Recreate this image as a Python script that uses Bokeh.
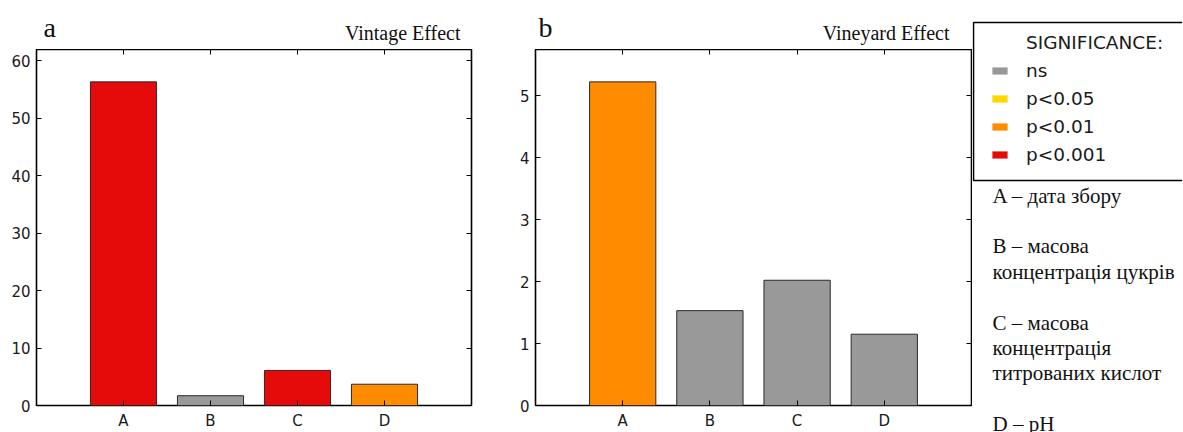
from bokeh.plotting import figure
from bokeh.models import (Range1d, LinearAxis, FixedTicker, Label, Legend, LegendItem,
                          ColumnDataSource, BoxAnnotation)
from bokeh.layouts import row, column
from bokeh.embed import file_html
from bokeh.resources import INLINE

# ---------------- data ----------------
categories = ["A", "B", "C", "D"]
vintage_values = [56.3, 1.7, 6.1, 3.7]
vintage_sig = ["p<0.001", "ns", "p<0.001", "p<0.01"]
vineyard_values = [5.22, 1.53, 2.02, 1.15]
vineyard_sig = ["p<0.01", "ns", "ns", "ns"]
sig_levels = ["ns", "p<0.05", "p<0.01", "p<0.001"]
sig_colors = ["#999999", "#ffd700", "#ff8c00", "#e60b0b"]
vintage_ticks = [0, 10, 20, 30, 40, 50, 60]
vineyard_ticks = [0, 1, 2, 3, 4, 5]
panel_letters = ["a", "b"]
panel_titles = ["Vintage Effect", "Vineyard Effect"]
legend_title = "SIGNIFICANCE:"
note_lines = ["A – дата збору", "", "B – масова", "концентрація цукрів", "",
              "C – масова", "концентрація", "титрованих кислот", "", "D – pH"]

SERIF = "Liberation Serif"
SANS = "DejaVu Sans"
HEAD_H = 49
FRAME_H = 356
BOT_B = 27
PLOT_H = FRAME_H + BOT_B
TOTAL_H = HEAD_H + PLOT_H


def styled_axis(axis, labels=None, hide=False):
    axis.axis_line_color = None
    axis.major_tick_in = 5
    axis.major_tick_out = 0
    axis.minor_tick_in = 0
    axis.minor_tick_out = 0
    axis.major_tick_line_color = "black"
    axis.major_tick_line_width = 1
    axis.major_label_text_font = SANS
    axis.major_label_text_font_size = "15px"
    axis.major_label_text_color = "#1a1a1a"
    if labels is not None:
        axis.major_label_overrides = labels
    if hide:
        axis.major_label_standoff = 0
        axis.major_label_text_font_size = "0px"
    return axis


def header(letter, title, b_left, b_right, frame_w, letter_dx, title_dx):
    h = figure(width=b_left + frame_w + b_right, height=HEAD_H,
               x_range=Range1d(0, frame_w), y_range=Range1d(0, HEAD_H),
               output_backend="svg", toolbar_location=None,
               min_border_left=b_left, min_border_right=b_right,
               min_border_top=0, min_border_bottom=0,
               x_axis_location=None, y_axis_location=None)
    h.grid.visible = False
    h.outline_line_color = None
    # text centres (px from top): letter baseline 36, title baseline 39
    h.add_layout(Label(x=letter_dx, y=HEAD_H - (36 - 0.3375 * 28), text=letter,
                       text_font=SERIF, text_font_size="28px", text_color="#111111",
                       text_baseline="middle"))
    h.add_layout(Label(x=frame_w - title_dx, y=HEAD_H - (39 - 0.3375 * 20), text=title,
                       text_font=SERIF, text_font_size="20px", text_color="#111111",
                       text_align="right", text_baseline="middle"))
    return h


def panel(values, sig, ticks, b_left, b_right, frame_w):
    color_of = dict(zip(sig_levels, sig_colors))
    xpos = [i + 1 for i, _ in enumerate(categories)]
    src = ColumnDataSource(dict(x=xpos, value=values, color=[color_of[s] for s in sig]))
    p = figure(width=b_left + frame_w + b_right, height=PLOT_H,
               x_range=Range1d(0, len(categories) + 1), y_range=Range1d(0, max(values) * 1.1),
               output_backend="svg", toolbar_location=None,
               min_border_left=b_left, min_border_right=b_right,
               min_border_top=0, min_border_bottom=BOT_B,
               x_axis_location=None, y_axis_location=None)
    p.vbar(x="x", top="value", width=0.76, fill_color="color",
           line_color="#2a2a2a", line_width=1, source=src)
    p.grid.visible = False
    p.outline_line_color = "black"
    p.outline_line_width = 1.6
    p.outline_line_alpha = 1.0

    bottom = styled_axis(LinearAxis(ticker=FixedTicker(ticks=xpos)),
                         {x: c for x, c in zip(xpos, categories)})
    bottom.major_label_standoff = 6
    p.add_layout(bottom, "below")
    top = styled_axis(LinearAxis(ticker=FixedTicker(ticks=xpos)),
                      {x: "" for x in xpos}, hide=True)
    p.add_layout(top, "above")
    left = styled_axis(LinearAxis(ticker=FixedTicker(ticks=ticks)))
    left.major_label_standoff = 6
    p.add_layout(left, "left")
    right = styled_axis(LinearAxis(ticker=FixedTicker(ticks=ticks)),
                        {t: "" for t in ticks}, hide=True)
    p.add_layout(right, "right")
    return p


h1 = header(panel_letters[0], panel_titles[0], 36, 29, 435, 7, 11)
p1 = panel(vintage_values, vintage_sig, vintage_ticks, 36, 29, 435)
h2 = header(panel_letters[1], panel_titles[1], 35, 1, 436, 3, 22)
p2 = panel(vineyard_values, vineyard_sig, vineyard_ticks, 35, 1, 436)

# ---------------- legend / notes panel ----------------
P3_W, P3_H = 210, TOTAL_H
p3 = figure(width=P3_W, height=P3_H, x_range=Range1d(0, P3_W), y_range=Range1d(0, P3_H),
            output_backend="svg", toolbar_location=None, min_border=0,
            x_axis_location=None, y_axis_location=None)
p3.grid.visible = False
p3.outline_line_color = None

# legend frame (page y from top: 22 .. 180)
p3.add_layout(BoxAnnotation(left=1, right=P3_W + 50, top=P3_H - 22, bottom=P3_H - 180,
                            fill_color="white", fill_alpha=1.0,
                            line_color="black", line_width=1.6, line_alpha=1.0))

# hidden renderers that only supply legend swatches
leg_src = ColumnDataSource(dict(idx=list(range(len(sig_levels))),
                                zero=[0] * len(sig_levels), color=sig_colors))
swatch_r = p3.vbar(x="idx", top="zero", width=1, fill_color="color", line_color=None,
                   source=leg_src, visible=False)
title_r = p3.vbar(x="idx", top="zero", width=1, fill_alpha=0, line_alpha=0,
                  source=leg_src, visible=False)
items = [LegendItem(label=legend_title, renderers=[title_r], index=0)]
for i, lvl in enumerate(sig_levels):
    items.append(LegendItem(label=lvl, renderers=[swatch_r], index=i))

PAD = 18
ROW_H = 28
legend_top = 42.7 - ROW_H / 2 - PAD - 18.3
legend_h = 2 * PAD + ROW_H * len(items)
legend = Legend(items=items, location=(18, P3_H - (legend_top + legend_h)),
                padding=PAD, spacing=0, margin=0, label_height=ROW_H,
                glyph_width=19, glyph_height=9, label_standoff=17,
                label_text_font=SANS, label_text_font_size="18.5px",
                label_text_color="#1a1a1a",
                inactive_fill_alpha=0.0,
                border_line_color=None, background_fill_alpha=0)
p3.add_layout(legend)

NOTE_STEP = 25.4
for i, line in enumerate(note_lines):
    if not line:
        continue
    p3.add_layout(Label(x=20, y=P3_H - 195 - i * NOTE_STEP,
                        text=line, text_font=SERIF, text_font_size="21px",
                        text_color="#111111", text_baseline="middle"))

layout = row(column(h1, p1), column(h2, p2), p3)
open("out.html", "w").write(file_html(layout, INLINE))
